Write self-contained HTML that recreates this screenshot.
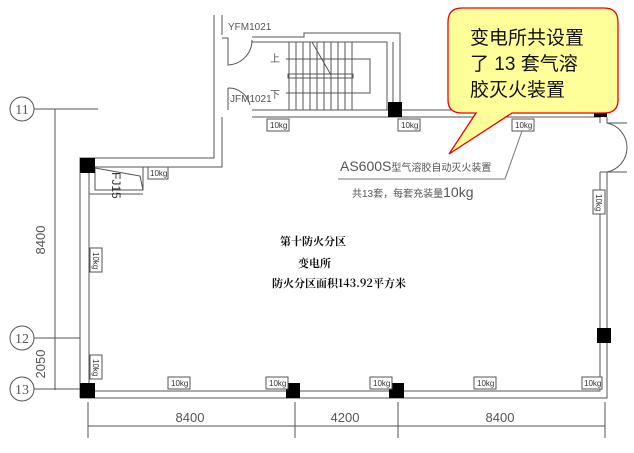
<!DOCTYPE html>
<html><head><meta charset="utf-8"><style>
html,body{margin:0;padding:0;background:#fff;width:634px;height:453px;overflow:hidden}
svg{display:block}
.t{font-family:"Liberation Sans","Noto Sans CJK SC",sans-serif;fill:#555}
.k{font-family:"Liberation Sans",sans-serif;font-size:8px;fill:#333}
.c{font-family:"Noto Serif CJK SC","Noto Sans CJK SC",serif;fill:#111;font-size:11px;font-weight:bold}
</style></head><body>
<svg width="634" height="453" viewBox="0 0 634 453" xmlns="http://www.w3.org/2000/svg">
<g stroke="#555" stroke-width="1" fill="none">
<path d="M80,398 H607 V172"/>
<path d="M89,391 H600 V172"/>
<path d="M80,398 V158 H214 V15"/>
<path d="M89,391 V167 H222 V117"/>
<path d="M222,15 V35"/>
<path d="M252,110 H600"/>
<path d="M252,117 H600"/>
<path d="M600,110 V123 M607,117 V123 H627"/>
<path d="M600,172 H627"/>
<path d="M607,123 A25,25 0 0 1 627,148 M607,172 A25,25 0 0 0 627,148"/>
<path d="M252,37 H304 V33 H400 V110"/>
<path d="M252,42 H387 V110 M393,42 V110"/>
<path d="M289,42 V110 M296,42 V110 M303,42 V110 M310,42 V110 M317,42 V110 M324,42 V110 M331,42 V110 M338,42 V110 M345,42 V110 M352,42 V110"/>
<rect x="288" y="74" width="65" height="4"/>
<path d="M286,59 H370 V93 H286"/>
<path d="M312,42 L331,75"/>
<path d="M222,38 H228 V65 A25,25 0 0 0 252,40"/>
<path d="M228,88 V110 M228,88 A22,22 0 0 1 250,105"/>
<path d="M95,167 V190 H143 V167 M89,194 H143"/>
<path d="M95,168 L140,176 L143,190"/>
<path d="M30,109 H98 M55,109 V390 M30,338 H80 M30,389 H80"/>
<path d="M88,402 V438 M295,402 V438 M398,402 V438 M605,402 V438 M88,426 H605"/>
</g>
<g fill="#000">
<rect x="80" y="158" width="15" height="15"/>
<rect x="388" y="102" width="14" height="15"/>
<rect x="594" y="110" width="13" height="7"/>
<rect x="80" y="383" width="15" height="15"/>
<rect x="286" y="383" width="14" height="15"/>
<rect x="389" y="383" width="15" height="15"/>
<rect x="597" y="328" width="14" height="15"/>
</g>
<g stroke="#555" fill="#fff">
<circle cx="22" cy="109" r="12"/><circle cx="22" cy="338" r="12"/><circle cx="22" cy="389" r="12"/>
</g>
<g class="t" font-size="14" text-anchor="middle">
<text x="22" y="114" style="font-family:'Liberation Serif'">11</text>
<text x="22" y="343" style="font-family:'Liberation Serif'">12</text>
<text x="22" y="394" style="font-family:'Liberation Serif'">13</text>
</g>
<g class="t" font-size="13" text-anchor="middle">
<text transform="translate(45,240) rotate(-90)">8400</text>
<text transform="translate(45,364) rotate(-90)">2050</text>
<text x="190" y="422">8400</text><text x="345" y="422">4200</text><text x="500" y="422">8400</text>
</g>
<g class="t" font-size="10">
<text x="228" y="30">YFM1021</text><text x="230" y="102">JFM1021</text>
<text x="270" y="62">上</text><text x="270" y="98">下</text>
</g>
<g stroke="#555" fill="#fff">
<rect x="267" y="119" width="22" height="12"/><rect x="398" y="119" width="22" height="12"/><rect x="512" y="119" width="22" height="12"/>
<rect x="148" y="167" width="20" height="12"/>
<rect x="168" y="377" width="22" height="12"/><rect x="266" y="377" width="22" height="12"/><rect x="370" y="377" width="22" height="12"/><rect x="474" y="377" width="22" height="12"/><rect x="582" y="377" width="20" height="12"/>
<rect x="90" y="248" width="12" height="24"/><rect x="90" y="355" width="12" height="24"/><rect x="593" y="190" width="12" height="24"/>
</g>
<g class="k">
<text x="270" y="128">10kg</text><text x="401" y="128">10kg</text><text x="515" y="128">10kg</text><text x="150" y="176">10kg</text>
<text x="171" y="386">10kg</text><text x="269" y="386">10kg</text><text x="373" y="386">10kg</text><text x="477" y="386">10kg</text><text x="584" y="386">10kg</text>
<text transform="translate(93,252) rotate(90)">10kg</text><text transform="translate(93,359) rotate(90)">10kg</text><text transform="translate(596,194) rotate(90)">10kg</text>
<text transform="translate(112,172) rotate(90)" font-size="12">FJ15</text>
</g>
<path d="M338,179 H505 L522,131" stroke="#777" fill="none"/>
<text class="t" x="340" y="171" font-size="14">AS600S<tspan font-size="10">型气溶胶自动灭火装置</tspan></text>
<text class="t" x="352" y="197" font-size="10">共13套，每套充装量<tspan font-size="14">10kg</tspan></text>
<text class="c" x="280" y="245">第十防火分区</text>
<text class="c" x="298" y="267">变电所</text>
<text class="c" x="272" y="287">防火分区面积143.92平方米</text>
<path d="M462,8 H604 Q618,8 618,22 V100 Q618,113 604,113 H512 L449,154 L476,113 H462 Q448,113 448,100 V22 Q448,8 462,8 Z" fill="#ffff99" stroke="#e00" stroke-width="1.3"/>
<g font-family="'Liberation Sans','Noto Sans CJK SC',sans-serif" font-size="19" fill="#111">
<text x="470" y="44">变电所共设置</text>
<text x="470" y="70">了 13 套气溶</text>
<text x="470" y="96">胶灭火装置</text>
</g>
</svg>
</body></html>
